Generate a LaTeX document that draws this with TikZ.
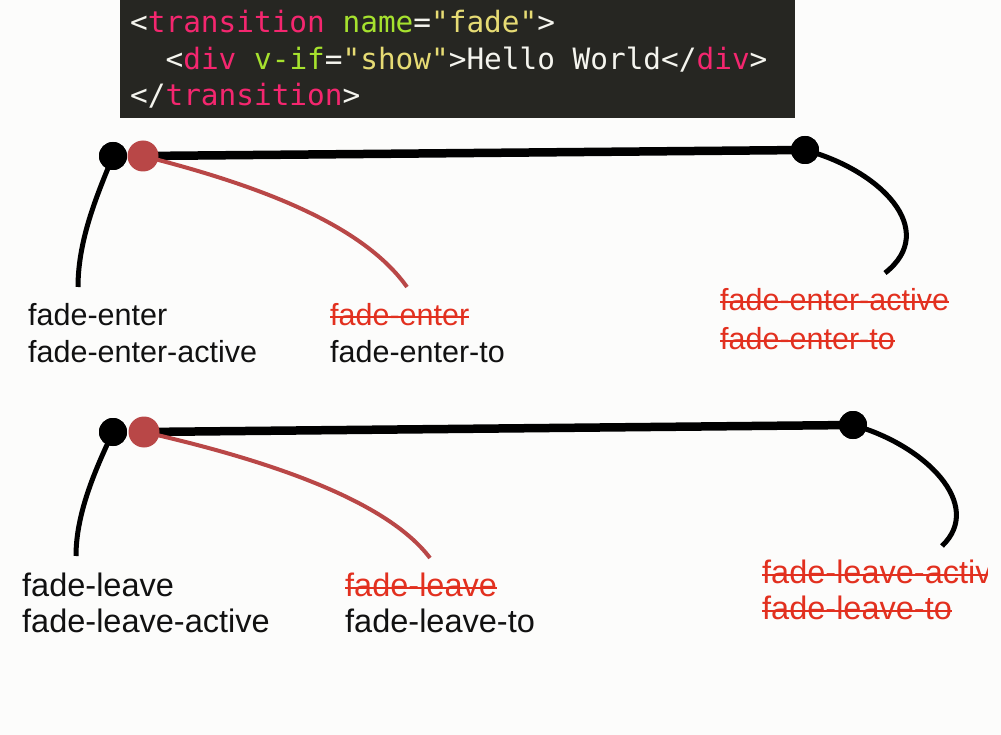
\documentclass[tikz,border=0pt]{standalone}
\usepackage{fontspec}
\setmainfont{Liberation Sans}
\setmonofont{DejaVu Sans Mono}
\definecolor{bgc}{HTML}{FCFCFB}
\definecolor{codebg}{HTML}{262622}
\definecolor{cpink}{HTML}{F4266F}
\definecolor{cgreen}{HTML}{A6E22E}
\definecolor{cyellow}{HTML}{E6DB74}
\definecolor{cwhite}{HTML}{F4F4EE}
\definecolor{dotred}{HTML}{B94747}
\definecolor{txtred}{HTML}{E2301F}
\definecolor{txtblack}{HTML}{111111}
\tikzset{
  codeline/.style={anchor=base west,inner sep=0pt,text=cwhite,font=\ttfamily\fontsize{29.4}{36}\selectfont},
  lbl/.style={anchor=base west,inner sep=0pt,text=txtblack,font=\fontsize{30.5}{36}\selectfont},
  lblbig/.style={lbl,font=\fontsize{32.5}{36}\selectfont},
  rlbl/.style={lbl,text=txtred},
  rlblbig/.style={lblbig,text=txtred},
  strike/.style={draw=txtred,line width=2pt},
  bdot/.style={circle,fill=black,inner sep=0pt,minimum size=28pt},
  rdot/.style={circle,fill=dotred,inner sep=0pt,minimum size=31pt},
  mainline/.style={line width=8.5pt,black},
  bcurve/.style={line width=5pt,black},
  rcurve/.style={line width=4pt,dotred},
}
\newcommand{\strikeit}[1]{\draw[strike] ([yshift=8.5pt]#1.base west) -- ([yshift=8.5pt]#1.base east);}
\begin{document}
\begin{tikzpicture}[x=1pt,y=-1pt]
\useasboundingbox (0,0) rectangle (1001,735);
\fill[bgc] (0,0) rectangle (1001,735);
% code block
\fill[codebg] (120,0) rectangle (795,118);
\node[codeline] (code1) at (130,33) {<\textcolor{cpink}{transition} \textcolor{cgreen}{name}=\textcolor{cyellow}{"fade"}>};
\node[codeline] (code2) at (165.4,70) {<\textcolor{cpink}{div} \textcolor{cgreen}{v-if}=\textcolor{cyellow}{"show"}>Hello World</\textcolor{cpink}{div}>};
\node[codeline] (code3) at (130,106) {</\textcolor{cpink}{transition}>};

% ---------- enter timeline ----------
\coordinate (eL) at (78,287);
\coordinate (eM) at (407,287);
\coordinate (eR) at (885,273);
\coordinate (erc) at (143,156);
\node[bdot] (eb) at (113,156) {};
\node[bdot] (ebr) at (805,150) {};
\draw[bcurve] (eb.center) .. controls (97,195) and (78,240) .. (eL);
\draw[bcurve] (ebr.center) .. controls (880,170) and (940,230) .. (eR);
\draw[mainline] (erc) -- (ebr.center);
\draw[rcurve] (erc) .. controls (270,188) and (365,228) .. (eM);
\node[bdot] (eb2) at (eb) {};
\node[rdot] (er) at (erc) {};
\node[bdot] (ebr2) at (ebr) {};

\node[lbl] (e1) at (28,325) {fade-enter};
\node[lbl] (e2) at (28,362) {fade-enter-active};
\node[rlbl] (e3) at (330,325) {fade-enter}; \strikeit{e3}
\node[lbl] (e4) at (330,362) {fade-enter-to};
\node[rlbl] (e5) at (720,311) {fade-enter-active}; \strikeit{e5}
\node[rlbl] (e6) at (720,349) {fade-enter-to}; \strikeit{e6}

% ---------- leave timeline ----------
\coordinate (lL) at (76,556);
\coordinate (lM) at (430,558);
\coordinate (lR) at (942,546);
\coordinate (lrc) at (144,432);
\node[bdot] (lb) at (113,432) {};
\node[bdot] (lbr) at (853,425) {};
\draw[bcurve] (lb.center) .. controls (94,472) and (76,515) .. (lL);
\draw[bcurve] (lbr.center) .. controls (925,445) and (985,505) .. (lR);
\draw[mainline] (lrc) -- (lbr.center);
\draw[rcurve] (lrc) .. controls (285,464) and (390,505) .. (lM);
\node[bdot] (lb2) at (lb) {};
\node[rdot] (lr) at (lrc) {};
\node[bdot] (lbr2) at (lbr) {};

\node[lblbig] (l1) at (22,596) {fade-leave};
\node[lblbig] (l2) at (22,632) {fade-leave-active};
\node[rlblbig] (l3) at (345,596) {fade-leave}; \strikeit{l3}
\node[lblbig] (l4) at (345,632) {fade-leave-to};
\begin{scope}
\clip (700,540) rectangle (987,640);
\node[rlblbig] (l5) at (762,583) {fade-leave-active}; \strikeit{l5}
\node[rlblbig] (l6) at (762,619) {fade-leave-to}; \strikeit{l6}
\end{scope}
\end{tikzpicture}
\end{document}
